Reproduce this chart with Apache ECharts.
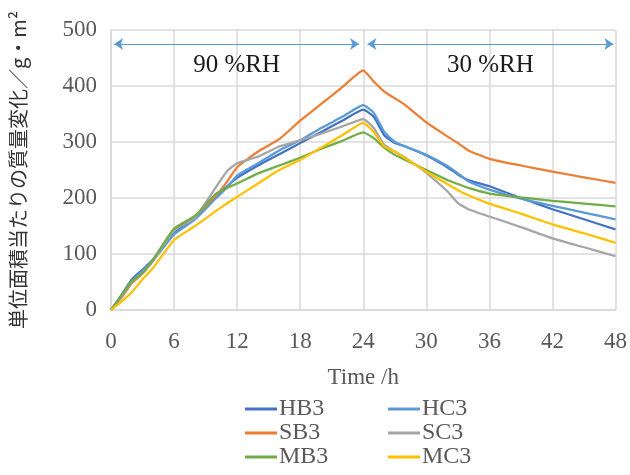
<!DOCTYPE html>
<html>
<head>
<meta charset="utf-8">
<script src="https://cdn.jsdelivr.net/npm/echarts@6/dist/echarts.min.js"></script>
<style>
  html, body { margin: 0; padding: 0; background: #fff; }
  #chart { width: 630px; height: 475px; }
</style>
</head>
<body>
<div id="chart"></div>
<script>
// 時間 (h)
var hours = [0, 1, 2, 3, 4, 6, 8, 10, 11, 12, 14, 16, 18, 20, 22, 24, 25, 26, 27, 28, 30, 32, 33, 34, 36, 39, 42, 45, 48];

// 各試験体の質量変化 (g/m2)
var hb3 = [0, 27, 55, 72, 90, 137, 165, 202, 220, 236, 258, 278, 298, 318, 338, 358, 345, 312, 298, 292, 276, 255, 242, 232, 221, 200, 180, 162, 144];
var hc3 = [0, 25, 52, 70, 88, 135, 162, 200, 218, 240, 262, 285, 303, 325, 345, 366, 352, 318, 300, 292, 277, 257, 244, 230, 215, 199, 186, 174, 162];
var sb3 = [0, 22, 48, 65, 88, 145, 168, 205, 228, 255, 283, 305, 338, 368, 398, 428, 408, 390, 378, 366, 335, 310, 298, 285, 270, 258, 247, 237, 227];
var sc3 = [0, 24, 50, 66, 88, 142, 165, 220, 247, 262, 274, 292, 303, 315, 328, 341, 325, 295, 283, 272, 245, 212, 191, 180, 167, 148, 128, 112, 96];
var mb3 = [0, 26, 52, 66, 90, 145, 168, 208, 218, 226, 244, 258, 272, 288, 302, 317, 307, 290, 277, 268, 250, 232, 225, 218, 208, 201, 195, 190, 185];
var mc3 = [0, 15, 32, 55, 75, 125, 150, 177, 190, 202, 226, 250, 268, 290, 312, 334, 318, 292, 283, 271, 247, 225, 214, 205, 190, 172, 153, 137, 120];

var xTicks = [0, 6, 12, 18, 24, 30, 36, 42, 48];
var yTicks = [0, 100, 200, 300, 400, 500];

// 湿度条件の区間
var phases = [
  { label: '90 %RH', from: 0.3, to: 23.6 },
  { label: '30 %RH', from: 24.4, to: 47.8 }
];
var arrowLevel = 475;

function pairs(vals) {
  var out = [];
  for (let i = 0; i < hours.length; i++) {
    out.push([hours[i], vals[i]]);
  }
  return out;
}

var serif = '"Liberation Serif", "Times New Roman", serif';
var gridColor = '#d9d9d9';
var labelColor = '#595959';

var lines = [
  { name: 'HB3', data: hb3, color: '#4472C4' },
  { name: 'HC3', data: hc3, color: '#5B9BD5' },
  { name: 'SB3', data: sb3, color: '#ED7D31' },
  { name: 'SC3', data: sc3, color: '#A5A5A5' },
  { name: 'MB3', data: mb3, color: '#70AD47' },
  { name: 'MC3', data: mc3, color: '#FFC000' }
];

var series = lines.map(function (s) {
  return {
    name: s.name,
    type: 'line',
    data: pairs(s.data),
    showSymbol: false,
    symbol: 'none',
    smooth: 0.15,
    color: s.color,
    lineStyle: { color: s.color, width: 2.25 }
  };
});

// 矢印と湿度ラベル
series.push({
  name: 'phase',
  type: 'line',
  data: [],
  silent: true,
  markLine: {
    silent: true,
    symbol: ['arrow', 'arrow'],
    symbolSize: [9, 9],
    lineStyle: { color: '#5B9BD5', width: 1, type: 'solid' },
    label: {
      show: true,
      position: 'insideMiddleBottom',
      distance: 9,
      fontFamily: serif,
      fontSize: 25,
      color: '#1a1a1a'
    },
    data: phases.map(function (p) {
      return [
        { coord: [p.from, arrowLevel], label: { formatter: p.label } },
        { coord: [p.to, arrowLevel] }
      ];
    })
  }
});

var legendText = { fontFamily: serif, fontSize: 24, color: labelColor, lineHeight: 24, padding: [0, 0, 0, -3] };

var myChart = echarts.init(document.getElementById('chart'));
var option = {
  animation: false,
  grid: { left: 111, right: 11, top: 30, bottom: 165, containLabel: false },
  xAxis: {
    type: 'value',
    min: xTicks[0],
    max: xTicks[xTicks.length - 1],
    interval: 6,
    name: 'Time /h',
    nameLocation: 'middle',
    nameGap: 56,
    nameTextStyle: { fontFamily: serif, fontSize: 23, color: labelColor },
    axisLine: { show: true, lineStyle: { color: gridColor, width: 1.5 } },
    axisTick: { show: false },
    axisLabel: { fontFamily: serif, fontSize: 23, color: labelColor, margin: 20 },
    splitLine: { show: true, lineStyle: { color: gridColor, width: 1.5 } }
  },
  yAxis: {
    type: 'value',
    min: yTicks[0],
    max: yTicks[yTicks.length - 1],
    interval: 100,
    name: '単位面積当たりの質量変化／g・m\u00B2',
    nameLocation: 'middle',
    nameRotate: 90,
    nameGap: 83,
    nameTextStyle: { fontFamily: '"Noto Sans CJK JP", serif', fontSize: 20, color: '#333' },
    axisLine: { show: true, lineStyle: { color: gridColor, width: 1.5 } },
    axisTick: { show: false },
    axisLabel: { fontFamily: serif, fontSize: 23, color: labelColor, margin: 14 },
    splitLine: { show: true, lineStyle: { color: gridColor, width: 1.5 } }
  },
  legend: [
    {
      data: ['HB3', 'SB3', 'MB3'],
      orient: 'vertical',
      left: 245,
      top: 397,
      padding: 0,
      itemWidth: 32,
      itemHeight: 3,
      itemGap: 0,
      icon: 'rect',
      textStyle: legendText
    },
    {
      data: ['HC3', 'SC3', 'MC3'],
      orient: 'vertical',
      left: 388,
      top: 397,
      padding: 0,
      itemWidth: 32,
      itemHeight: 3,
      itemGap: 0,
      icon: 'rect',
      textStyle: legendText
    }
  ],
  series: series
};
myChart.setOption(option);
window.addEventListener('resize', function () {
  myChart.resize();
});
</script>
</body>
</html>
